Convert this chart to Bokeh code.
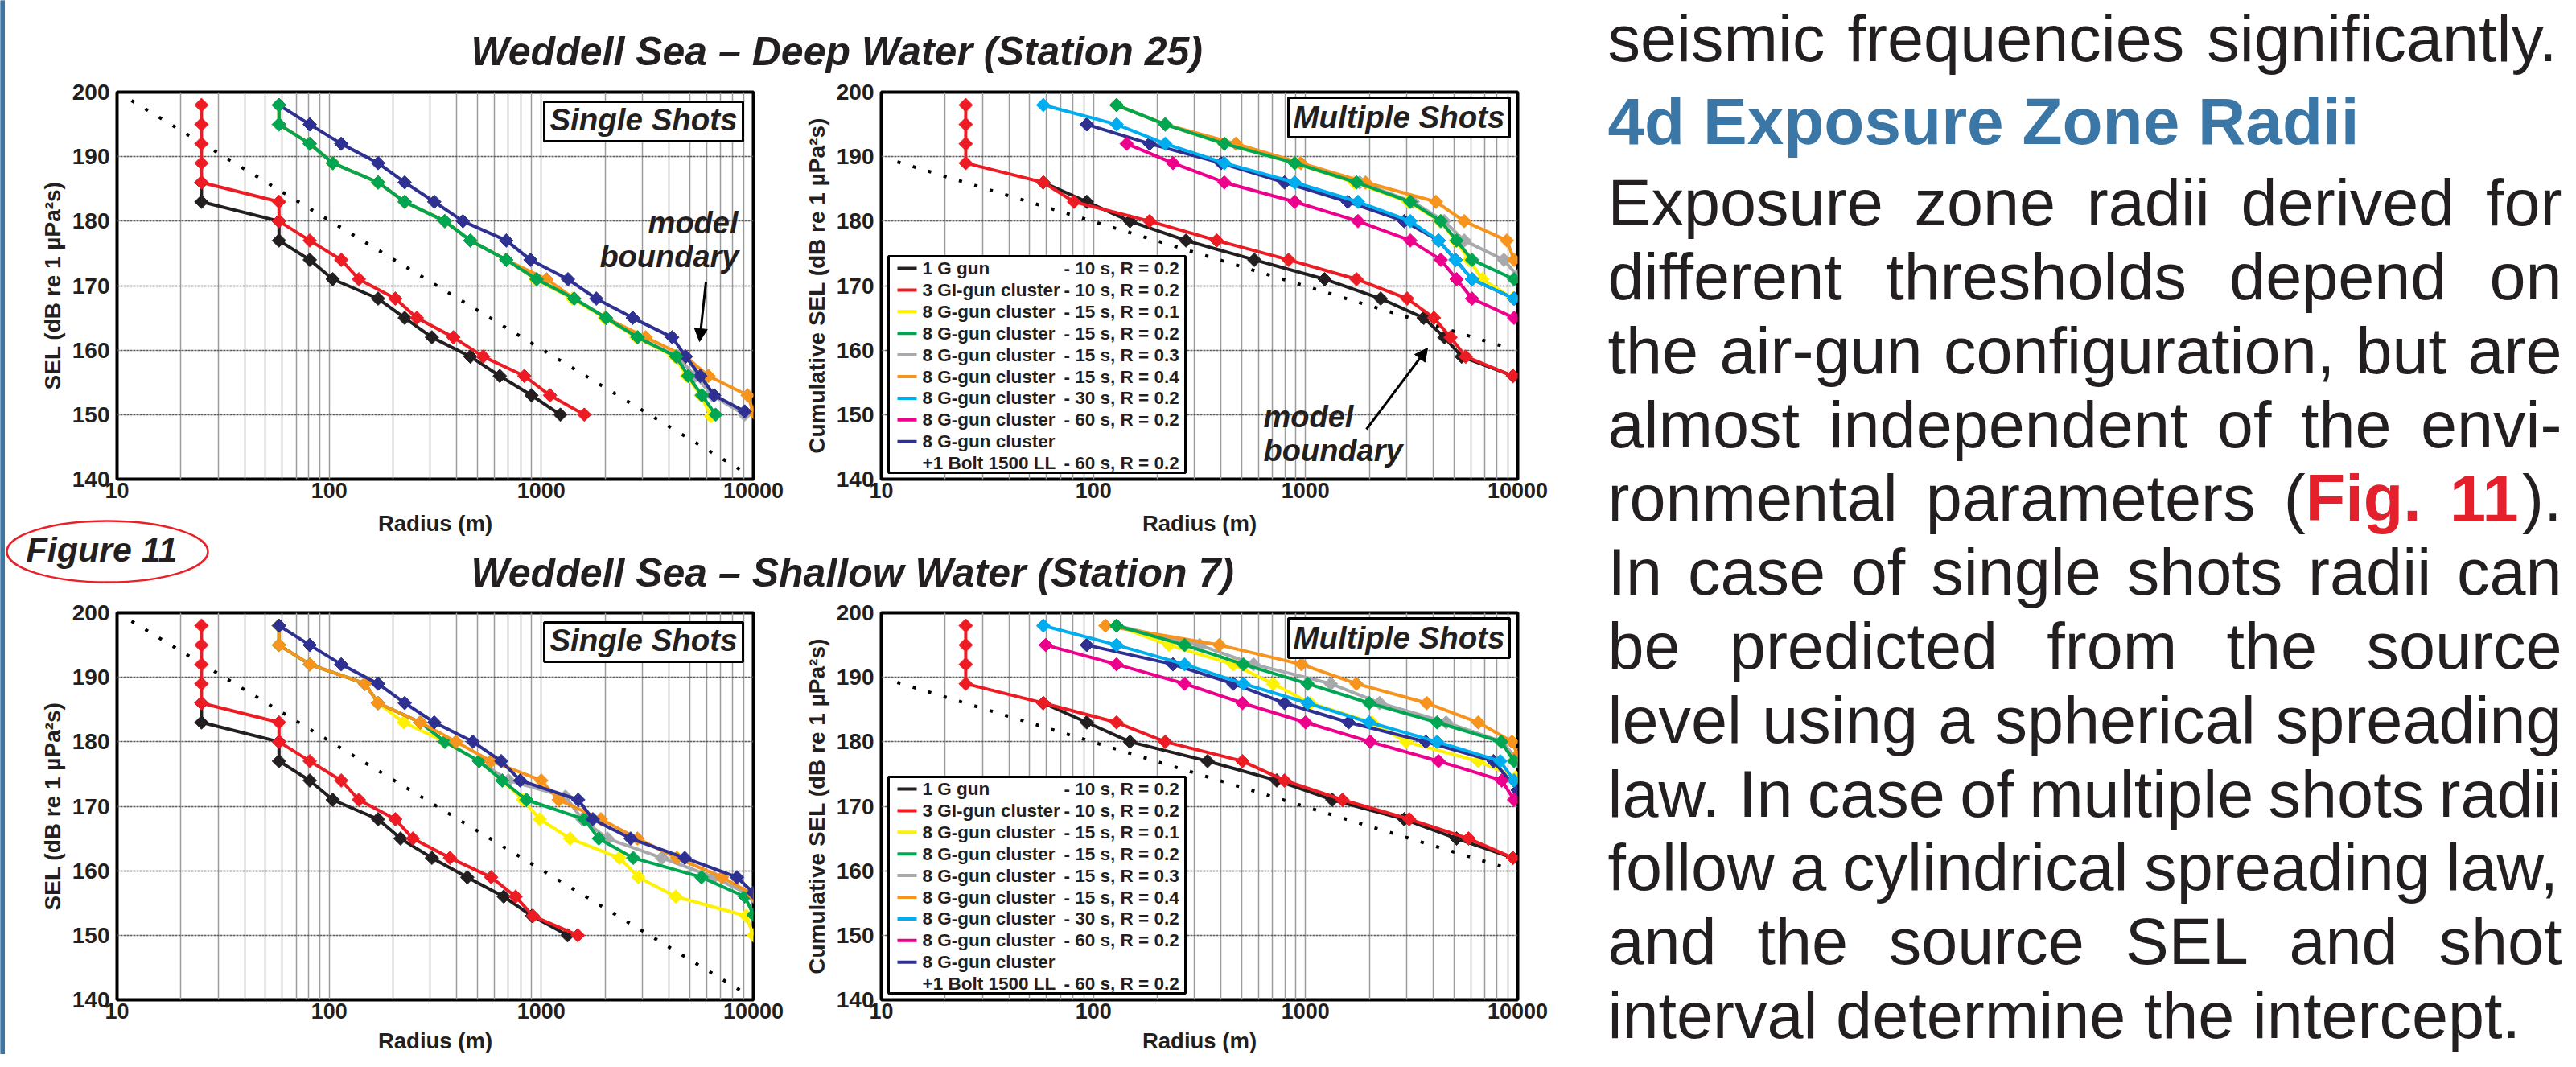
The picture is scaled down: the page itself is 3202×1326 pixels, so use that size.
import math
from bokeh.plotting import figure
from bokeh.layouts import row, column
from bokeh.models import (Range1d, FixedTicker, CustomJSTickFormatter, Arrow,
                          NormalHead, ColumnDataSource)
from bokeh.core.properties import value
from bokeh.embed import file_html
from bokeh.resources import INLINE

# ======================= DATA =======================
x_tick_values = [10, 100, 1000, 10000]
y_tick_values = [140, 150, 160, 170, 180, 190, 200]

title_deep = "Weddell Sea \u2013 Deep Water (Station 25)"
title_shallow = "Weddell Sea \u2013 Shallow Water (Station 7)"
ylabel_single = "SEL (dB re 1 \u00b5Pa\u00b2s)"
ylabel_multi = "Cumulative SEL (dB re 1 \u00b5Pa\u00b2s)"
xlabel = "Radius (m)"

legend_keys = ["black", "red", "yellow", "green", "gray", "orange", "cyan", "magenta", "navy", None]
legend_names = ["1 G gun", "3 GI-gun cluster", "8 G-gun cluster", "8 G-gun cluster",
                "8 G-gun cluster", "8 G-gun cluster", "8 G-gun cluster", "8 G-gun cluster",
                "8 G-gun cluster", "+1 Bolt 1500 LL"]
legend_params = ["- 10 s, R = 0.2", "- 10 s, R = 0.2", "- 15 s, R = 0.1", "- 15 s, R = 0.2",
                 "- 15 s, R = 0.3", "- 15 s, R = 0.4", "- 30 s, R = 0.2", "- 60 s, R = 0.2",
                 "", "- 60 s, R = 0.2"]

# model boundary (spreading-law) reference lines
single_model_r = [11.7, 8850]
single_model_sel = [198.7, 141.3]
multi_model_r = [11.9, 8530]
multi_model_sel = [189.2, 160.6]

# ---- Deep water, single shots ----
ds_black_r = [25, 25, 58, 58, 81, 104, 170, 227, 305, 463, 637, 899, 1230]
ds_black_sel = [186, 183, 180, 177, 174, 171, 168, 165, 162, 159, 156, 153, 150]
ds_red_r = [25, 25, 25, 25, 25, 58, 58, 81, 114, 138, 205, 259, 385, 532, 832, 1099, 1596]
ds_red_sel = [198, 195, 192, 189, 186, 183, 180, 177, 174, 171, 168, 165, 162, 159, 156, 153, 150]
ds_green_r = [58, 58, 81, 104, 170, 227, 351, 463, 684, 951, 1429, 2018, 2845, 4325, 4930, 5720, 6635]
ds_green_sel = [198, 195, 192, 189, 186, 183, 180, 177, 174, 171, 168, 165, 162, 159, 156, 153, 150]
ds_yellow_r = [58, 58, 81, 104, 170, 227, 351, 463, 684, 940, 1400, 1990, 2800, 4250, 4850, 5650, 6300]
ds_yellow_sel = [198, 195, 192, 189, 186, 183, 180, 177, 174, 171, 168, 165, 162, 159, 156, 153, 149.8]
ds_gray_r = [58, 58, 81, 104, 170, 227, 351, 463, 684, 951, 1429, 2018, 2845, 4400, 5300, 6400, 9080]
ds_gray_sel = [198, 195, 192, 189, 186, 183, 180, 177, 174, 171, 168, 165, 162, 159, 156, 153, 150]
ds_orange_r = [58, 58, 81, 104, 170, 227, 351, 463, 684, 1060, 1429, 2018, 3105, 4800, 6140, 9390, 10000]
ds_orange_sel = [198, 195, 192, 189, 186, 183, 180, 177, 174, 171, 168, 165, 162, 159, 156, 153, 150.4]
ds_navy_r = [58, 81, 114, 170, 227, 313, 427, 684, 889, 1336, 1816, 2698, 4140, 4800, 5620, 6530, 9100]
ds_navy_sel = [198, 195, 192, 189, 186, 183, 180, 177, 174, 171, 168, 165, 162, 159, 156, 153, 150.5]

# ---- Deep water, multiple shots ----
dm_black_r = [58, 93, 148.6, 273, 573, 1230, 2259, 3606, 4510, 5445, 9500]
dm_black_sel = [186, 183, 180, 177, 174, 171, 168, 165, 162, 159, 156]
dm_red_r = [25, 25, 25, 25, 58, 81, 184, 381, 832, 1738, 3013, 4027, 4822, 5690, 9500]
dm_red_sel = [198, 195, 192, 189, 186, 183, 180, 177, 174, 171, 168, 165, 162, 159, 156]
dm_cyan_r = [58, 128.5, 218, 414, 889, 1766, 3118, 4236, 5094, 6093, 9614]
dm_cyan_sel = [198, 195, 192, 189, 186, 183, 180, 177, 174, 171, 168]
dm_navy_r = [93, 184, 400, 796, 1581, 2917, 4236, 5094, 6093, 9614]
dm_navy_sel = [195, 192, 189, 186, 183, 180, 177, 174, 171, 168]
dm_magenta_r = [143.5, 237, 414, 889, 1766, 3118, 4340, 5150, 6093, 9614]
dm_magenta_sel = [192, 189, 186, 183, 180, 177, 174, 171, 168, 165]
dm_green_r = [128.5, 218, 414, 889, 1738, 3118, 4340, 5150, 6093, 9614]
dm_green_sel = [198, 195, 192, 189, 186, 183, 180, 177, 174, 171]
dm_orange_r = [128.5, 218, 469, 950, 1919, 4121, 5598, 8892, 9614]
dm_orange_sel = [198, 195, 192, 189, 186, 183, 180, 177, 174]
dm_yellow_r = [128.5, 218, 414, 889, 1700, 3050, 4300, 5100, 5900, 6808, 9500]
dm_yellow_sel = [198, 195, 192, 189, 186, 183, 180, 177, 174, 171, 168]
dm_gray_r = [128.5, 218, 414, 950, 1800, 3200, 4500, 5600, 8600, 10000]
dm_gray_sel = [198, 195, 192, 189, 186, 183, 180, 177, 174, 171.5]

# ---- Shallow water, single shots ----
ss_black_r = [25, 25, 58, 58, 81, 104, 170, 217, 305, 448, 665, 904, 1330]
ss_black_sel = [186, 183, 180, 177, 174, 171, 168, 165, 162, 159, 156, 153, 150]
ss_red_r = [25, 25, 25, 25, 25, 58, 58, 81, 114, 138, 205, 248, 371, 580, 757, 914, 1486]
ss_red_sel = [198, 195, 192, 189, 186, 183, 180, 177, 174, 171, 168, 165, 162, 159, 156, 153, 150]
ss_navy_r = [58, 81, 114, 170, 227, 313, 476, 647, 796, 1493, 1750, 2638, 4745, 8360, 10000]
ss_navy_sel = [198, 195, 192, 189, 186, 183, 180, 177, 174, 171, 168, 165, 162, 159, 156.6]
ss_green_r = [58, 58, 81, 147.6, 170, 269, 351, 509, 655, 851, 1596, 1866, 2712, 5690, 9100, 10000]
ss_green_sel = [198, 195, 192, 189, 186, 183, 180, 177, 174, 171, 168, 165, 162, 159, 156, 153.2]
ss_orange_r = [58, 58, 81, 147.6, 170, 269, 396, 580, 1000, 1208, 1910, 2838, 4355, 7109, 10000]
ss_orange_sel = [198, 195, 192, 189, 186, 183, 180, 177, 174, 171, 168, 165, 162, 159, 156.3]
ss_gray_r = [58, 58, 81, 147.6, 170, 269, 351, 509, 700, 1300, 1560, 2050, 3700, 6500, 10000]
ss_gray_sel = [198, 195, 192, 189, 186, 183, 180, 177, 174, 171.5, 168, 165, 162, 159, 156]
ss_yellow_r = [58, 58, 81, 147.6, 170, 225, 351, 509, 655, 819, 984, 1368, 2335, 2868, 4305, 9243, 10000]
ss_yellow_sel = [198, 195, 192, 189, 186, 183, 180, 177, 174, 171, 168, 165, 162, 159, 156, 153, 150]

# ---- Shallow water, multiple shots ----
sm_red_r = [25, 25, 25, 25, 58, 128.5, 218, 504, 796, 1493, 3083, 5864, 9500]
sm_red_sel = [198, 195, 192, 189, 186, 183, 180, 177, 174, 171, 168, 165, 162]
sm_black_r = [58, 93, 148.6, 345, 731, 1336, 2917, 5150, 9500]
sm_black_sel = [186, 183, 180, 177, 174, 171, 168, 165, 162]
sm_cyan_r = [58, 128.5, 269, 509, 1023, 1996, 4169, 8279, 9614]
sm_cyan_sel = [198, 195, 192, 189, 186, 183, 180, 177, 174]
sm_magenta_r = [59.6, 128.5, 269, 504, 1000, 2018, 4236, 8414, 9614]
sm_magenta_sel = [195, 192, 189, 186, 183, 180, 177, 174, 171]
sm_navy_r = [93, 237, 456, 796, 1596, 3690, 7690, 10000]
sm_navy_sel = [195, 192, 189, 186, 183, 180, 177, 172.5]
sm_green_r = [128.5, 269, 509, 1023, 1996, 4169, 8360, 9614]
sm_green_sel = [198, 195, 192, 189, 186, 183, 180, 177]
sm_orange_r = [114, 392, 957, 1738, 3727, 6516, 9397, 10000]
sm_orange_sel = [198, 195, 192, 189, 186, 183, 180, 178]
sm_gray_r = [128.5, 317, 569, 1315, 2234, 4600, 8492, 10000]
sm_gray_sel = [198, 195, 192, 189, 186, 183, 180, 177]
sm_yellow_r = [128.5, 227, 456, 703, 1052, 2051, 2980, 6516, 9800]
sm_yellow_sel = [198, 195, 192, 189, 186, 183, 180, 177, 174.5]

# right-hand poster text
text_prev_line = "seismic frequencies significantly."
text_heading = "4d Exposure Zone Radii"
text_body = [
    "Exposure zone radii derived for",
    "different thresholds depend on",
    "the air-gun configuration, but are",
    "almost independent of the envi-",
    "ronmental parameters (*Fig.* *11*).",
    "In case of single shots radii can",
    "be predicted from the source",
    "level using a spherical spreading",
    "law. In case of multiple shots radii",
    "follow a cylindrical spreading law,",
    "and the source SEL and shot",
    "interval determine the intercept.",
]

# ======================= STYLE =======================
FONT = "Liberation Sans"
COL = dict(black="#231f20", red="#ed1c24", yellow="#fff200", green="#00a651",
           gray="#a7a9ac", orange="#f7941d", cyan="#00aeef", magenta="#ec008c",
           navy="#2e3192")
BLUE_HEAD = "#3a76a6"
FW, FH = 791, 481  # frame size in px
MID = 0.35         # centre of capitals above the baseline, in em


def fx(dx):
    """frame-relative pixel offset -> radius (log axis 10..10000)"""
    return 10 ** (1 + 3.0 * dx / FW)


def fy(dy):
    """frame-relative pixel offset from top -> SEL (140..200)"""
    return 200 - 60.0 * dy / FH


def panel(width, height, bl, bt, ylabel):
    p = figure(width=width, height=height, x_axis_type="log",
               x_range=Range1d(10, 10000), y_range=Range1d(140, 200),
               output_backend="svg", toolbar_location=None,
               min_border_left=bl, min_border_right=width - bl - FW,
               min_border_top=bt, min_border_bottom=height - bt - FH)
    p.background_fill_color = "white"
    p.border_fill_color = "white"
    p.outline_line_color = "black"
    p.outline_line_width = 4
    xa = p.xaxis[0]
    xa.ticker = FixedTicker(ticks=x_tick_values)
    xa.formatter = CustomJSTickFormatter(code="return tick.toFixed(0);")
    ya = p.yaxis[0]
    ya.ticker = FixedTicker(ticks=y_tick_values)
    for ax in (xa, ya):
        ax.axis_line_color = None
        ax.major_tick_out = 0
        ax.major_tick_in = 0
        ax.minor_tick_out = 0
        ax.minor_tick_in = 0
        ax.major_label_text_font = FONT
        ax.major_label_text_font_style = "bold"
        ax.major_label_text_color = "#231f20"
    xa.major_label_text_font_size = "27px"
    xa.major_label_standoff = 4
    ya.major_label_text_font_size = "28px"
    ya.major_label_standoff = 9
    ya.axis_label = ylabel
    ya.axis_label_text_font = FONT
    ya.axis_label_text_font_style = "bold"
    ya.axis_label_text_font_size = "28px"
    ya.axis_label_text_color = "#231f20"
    ya.axis_label_standoff = 6
    grid_x = [m * 10 ** k for k in (1, 2, 3) for m in range(2, 10)] + [100, 1000]
    p.xgrid.ticker = FixedTicker(ticks=grid_x)
    p.xgrid.grid_line_color = "#9c9c9c"
    p.xgrid.grid_line_width = 1.5
    p.ygrid.ticker = FixedTicker(ticks=[150, 160, 170, 180, 190])
    p.ygrid.grid_line_color = "#5a5a5a"
    p.ygrid.grid_line_width = 1.4
    p.ygrid.grid_line_dash = "3 1"
    return p


def series(p, xs, ys, key):
    c = COL[key]
    p.line(xs, ys, line_color=c, line_width=4, line_join="round")
    p.scatter(xs, ys, marker="square", size=12, angle=math.pi / 4,
              fill_color=c, line_color=c)


def model_line(p, xs, ys):
    p.line(xs, ys, line_color="black", line_width=4, line_dash="4 16")


def tag_box(p, label, left, right, top, bottom, base):
    p.quad(left=[fx(left)], right=[fx(right)], top=[fy(top)], bottom=[fy(bottom)],
           fill_color="white", line_color="black", line_width=3)
    cx = (left + right) / 2.0
    p.text(x=[fx(cx)], y=[fy(base - MID * 38.5)], text=[label], text_font=value(FONT),
           text_font_size=value("38.5px"), text_font_style=value("bold italic"),
           text_align=value("center"), text_baseline=value("middle"),
           text_color="#231f20")


def legend_box(p):
    p.quad(left=[fx(9)], right=[fx(378)], top=[fy(204)], bottom=[fy(473)],
           fill_color="white", line_color="black", line_width=3)
    rows_y = [fy(219 + 26.9 * i) for i in range(len(legend_names))]
    lx0, lx1, ly, lc = [], [], [], []
    for k, yy in zip(legend_keys, rows_y):
        if k is not None:
            lx0.append(fx(20)); lx1.append(fx(44)); ly.append(yy); lc.append(COL[k])
    p.segment(x0=lx0, y0=ly, x1=lx1, y1=ly, line_color=lc, line_width=4)
    common = dict(text_font=value(FONT), text_font_size=value("22.5px"),
                  text_font_style=value("bold"), text_baseline=value("middle"),
                  text_align=value("left"), text_color="#231f20")
    p.text(x=[fx(51)] * len(rows_y), y=rows_y, text=legend_names, **common)
    p.text(x=[fx(227)] * len(rows_y), y=rows_y, text=legend_params, **common)


def note(p, lines, dxs, bases, align):
    p.text(x=[fx(d) for d in dxs], y=[fy(b - MID * 38) for b in bases], text=lines,
           text_font=value(FONT), text_font_size=value("38px"),
           text_font_style=value("bold italic"), text_align=value(align),
           text_baseline=value("middle"), text_color="#231f20")


def strip(x0, x1, y0, y1, bg="white"):
    p = figure(width=x1 - x0, height=y1 - y0, x_range=Range1d(x0, x1),
               y_range=Range1d(y1, y0), x_axis_type=None, y_axis_type=None,
               output_backend="svg", toolbar_location=None, min_border=0)
    p.outline_line_color = None
    p.background_fill_color = bg
    p.border_fill_color = bg
    return p


def strip_text(p, xs, bases, texts, size, style, align, color="#231f20"):
    p.text(x=xs, y=[b - MID * size for b in bases], text=texts, text_font=value(FONT),
           text_font_size=value("%gpx" % size), text_font_style=value(style),
           text_align=value(align), text_baseline=value("middle"), text_color=color)


# ======================= PAGE GEOMETRY (page px) =======================
LEFT0, SPLIT, RIGHT0, RIGHT1 = 14, 990, 1968, 3194
TOP, BOTTOM = 8, 1318
ROW1_Y0, ROW1_Y1, ROW2_Y0, ROW2_Y1 = 100, 641, 755, 1285
P1_FL, P2_FL = 153, 1103   # frame left edges
P1_FT, P3_FT = 122, 769    # frame top edges

# ---------- panels ----------
p1 = panel(SPLIT - LEFT0, ROW1_Y1 - ROW1_Y0, P1_FL - LEFT0, P1_FT - ROW1_Y0, ylabel_single)
p2 = panel(RIGHT0 - SPLIT, ROW1_Y1 - ROW1_Y0, P2_FL - SPLIT, P1_FT - ROW1_Y0, ylabel_multi)
p3 = panel(SPLIT - LEFT0, ROW2_Y1 - ROW2_Y0, P1_FL - LEFT0, P3_FT - ROW2_Y0, ylabel_single)
p4 = panel(RIGHT0 - SPLIT, ROW2_Y1 - ROW2_Y0, P2_FL - SPLIT, P3_FT - ROW2_Y0, ylabel_multi)

# deep single
model_line(p1, single_model_r, single_model_sel)
series(p1, ds_yellow_r, ds_yellow_sel, "yellow")
series(p1, ds_gray_r, ds_gray_sel, "gray")
series(p1, ds_orange_r, ds_orange_sel, "orange")
series(p1, ds_navy_r, ds_navy_sel, "navy")
series(p1, ds_green_r, ds_green_sel, "green")
series(p1, ds_black_r, ds_black_sel, "black")
series(p1, ds_red_r, ds_red_sel, "red")
tag_box(p1, "Single Shots", 531, 778, 12, 61, 47)
note(p1, ["model", "boundary"], [772, 773], [176, 218], "right")
p1.add_layout(Arrow(end=NormalHead(size=16, fill_color="black", line_color="black"),
                    x_start=fx(732), y_start=fy(236), x_end=fx(724), y_end=fy(310),
                    line_width=3, line_color="black"))

# deep multiple
model_line(p2, multi_model_r, multi_model_sel)
series(p2, dm_gray_r, dm_gray_sel, "gray")
series(p2, dm_yellow_r, dm_yellow_sel, "yellow")
series(p2, dm_orange_r, dm_orange_sel, "orange")
series(p2, dm_green_r, dm_green_sel, "green")
series(p2, dm_navy_r, dm_navy_sel, "navy")
series(p2, dm_cyan_r, dm_cyan_sel, "cyan")
series(p2, dm_magenta_r, dm_magenta_sel, "magenta")
series(p2, dm_black_r, dm_black_sel, "black")
series(p2, dm_red_r, dm_red_sel, "red")
legend_box(p2)
tag_box(p2, "Multiple Shots", 506, 781, 7, 56, 44)
note(p2, ["model", "boundary"], [475, 475], [417, 459], "left")
p2.add_layout(Arrow(end=NormalHead(size=16, fill_color="black", line_color="black"),
                    x_start=fx(603), y_start=fy(419), x_end=fx(679), y_end=fy(318),
                    line_width=3, line_color="black"))

# shallow single
model_line(p3, single_model_r, single_model_sel)
series(p3, ss_yellow_r, ss_yellow_sel, "yellow")
series(p3, ss_gray_r, ss_gray_sel, "gray")
series(p3, ss_green_r, ss_green_sel, "green")
series(p3, ss_orange_r, ss_orange_sel, "orange")
series(p3, ss_navy_r, ss_navy_sel, "navy")
series(p3, ss_black_r, ss_black_sel, "black")
series(p3, ss_red_r, ss_red_sel, "red")
tag_box(p3, "Single Shots", 531, 778, 12, 61, 47)

# shallow multiple
model_line(p4, multi_model_r, multi_model_sel)
series(p4, sm_yellow_r, sm_yellow_sel, "yellow")
series(p4, sm_gray_r, sm_gray_sel, "gray")
series(p4, sm_orange_r, sm_orange_sel, "orange")
series(p4, sm_green_r, sm_green_sel, "green")
series(p4, sm_navy_r, sm_navy_sel, "navy")
series(p4, sm_cyan_r, sm_cyan_sel, "cyan")
series(p4, sm_magenta_r, sm_magenta_sel, "magenta")
series(p4, sm_black_r, sm_black_sel, "black")
series(p4, sm_red_r, sm_red_sel, "red")
legend_box(p4)
tag_box(p4, "Multiple Shots", 506, 781, 7, 56, 44)

# ---------- strips ----------
x_centres = [P1_FL + FW / 2.0, P2_FL + FW / 2.0]

t1 = strip(LEFT0, RIGHT0, TOP, ROW1_Y0)
strip_text(t1, [593], [89], [title_deep], 50, "bold italic", "left")

mid = strip(LEFT0, RIGHT0, ROW1_Y1, ROW2_Y0)
strip_text(mid, x_centres, [668, 668], [xlabel, xlabel], 27.5, "bold", "center")
mid.ellipse(x=[141], y=[693], width=[250], height=[76], fill_color=None,
            line_color="#e8202a", line_width=2.5)
strip_text(mid, [40], [706], ["Figure 11"], 43, "bold italic", "left")
strip_text(mid, [593], [737], [title_shallow], 50, "bold italic", "left")

bot = strip(LEFT0, RIGHT0, ROW2_Y1, BOTTOM)
strip_text(bot, x_centres, [1311, 1311], [xlabel, xlabel], 27.5, "bold", "center")

bar = strip(8, LEFT0, TOP, BOTTOM, bg="#3b77a6")
bar.quad(left=[8], right=[LEFT0], top=[TOP], bottom=[BOTTOM], fill_color="#3b77a6",
         line_color=None)

# ---------- right-hand text (justified) ----------
W_REG = {' ': 278, '!': 278, '(': 333, ')': 333, ',': 278, '-': 333, '.': 278,
         'A': 667, 'B': 667, 'C': 722, 'D': 722, 'E': 667, 'F': 611, 'G': 778, 'H': 722,
         'I': 278, 'J': 500, 'K': 667, 'L': 556, 'M': 833, 'N': 722, 'O': 778, 'P': 667,
         'Q': 778, 'R': 722, 'S': 667, 'T': 611, 'U': 722, 'V': 667, 'W': 944, 'X': 667,
         'Y': 667, 'Z': 611, 'a': 556, 'b': 556, 'c': 500, 'd': 556, 'e': 556, 'f': 278,
         'g': 556, 'h': 556, 'i': 222, 'j': 222, 'k': 500, 'l': 222, 'm': 833, 'n': 556,
         'o': 556, 'p': 556, 'q': 556, 'r': 333, 's': 500, 't': 278, 'u': 556, 'v': 500,
         'w': 722, 'x': 500, 'y': 500, 'z': 500}
W_BOLD = {'F': 611, 'i': 278, 'g': 611, '.': 278, ' ': 278}


def char_w(c, bold):
    if c.isdigit():
        return 556
    return (W_BOLD.get(c, 611) if bold else W_REG.get(c, 556))


def str_w(s, bold):
    return sum(char_w(c, bold) for c in s) / 1000.0


def parse_word(word):
    return [(part, i % 2 == 1) for i, part in enumerate(word.split("*")) if part]


TEXT_L, TEXT_R, BODY_SIZE = 2006, 3192, 81
reg = dict(x=[], y=[], text=[])
redt = dict(x=[], y=[], text=[])


def layout_line(line, base, justify):
    y = base - MID * BODY_SIZE
    words = [parse_word(w) for w in line.split(" ")]
    widths = [sum(str_w(t, b) for t, b in segs) * BODY_SIZE for segs in words]
    if justify and len(words) > 1:
        gap = (TEXT_R - TEXT_L - sum(widths)) / (len(words) - 1)
    else:
        gap = W_REG[' '] / 1000.0 * BODY_SIZE
    x = TEXT_L
    for segs in words:
        for t, b in segs:
            d = redt if b else reg
            d["x"].append(x); d["y"].append(y); d["text"].append(t)
            x += str_w(t, b) * BODY_SIZE
        x += gap


layout_line(text_prev_line, 84, True)
for i, line in enumerate(text_body):
    layout_line(line, 288 + 91.8 * i, i < len(text_body) - 1)

tp = strip(RIGHT0, RIGHT1, TOP, BOTTOM)
tp.text(x="x", y="y", text="text", source=ColumnDataSource(reg), text_font=value(FONT),
        text_font_size=value("81px"), text_color="#231f20",
        text_align=value("left"), text_baseline=value("middle"))
tp.text(x="x", y="y", text="text", source=ColumnDataSource(redt), text_font=value(FONT),
        text_font_size=value("81px"), text_font_style=value("bold"), text_color="#e3202b",
        text_align=value("left"), text_baseline=value("middle"))
strip_text(tp, [TEXT_L], [187], [text_heading], 82, "bold", "left", BLUE_HEAD)

# ---------- assemble ----------
left_col = column(t1, row(p1, p2), mid, row(p3, p4), bot)
page = row(bar, left_col, tp)

open("out.html", "w").write(file_html(page, INLINE))
